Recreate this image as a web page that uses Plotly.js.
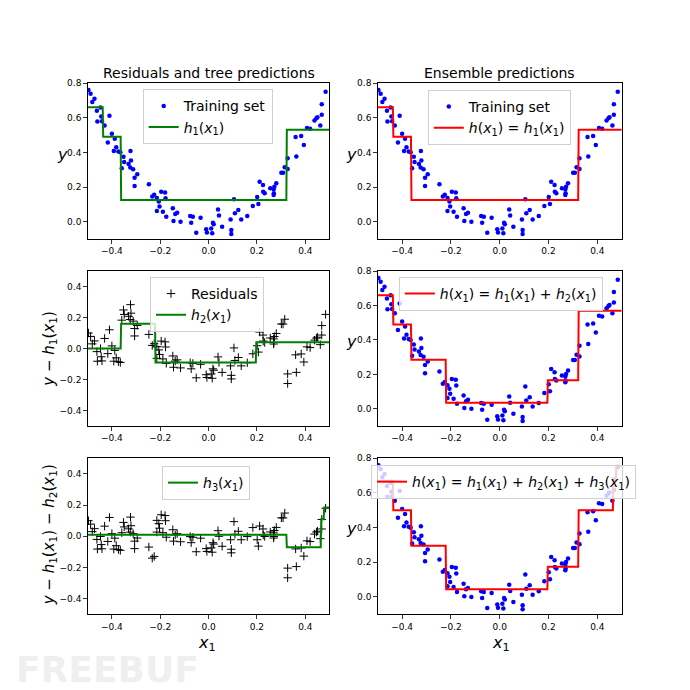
<!DOCTYPE html>
<html>
<head>
<meta charset="utf-8">
<script src="https://cdn.plot.ly/plotly-3.0.1.min.js"></script>
<style>html,body{margin:0;padding:0;background:#fff;}#chart{width:690px;height:690px;}</style>
</head>
<body>
<div id="chart"></div>
<script>
// ---- Training data ----
const X = [-0.497,-0.488,-0.481,-0.472,-0.462,-0.460,-0.447,-0.444,-0.441,-0.430,
  -0.417,-0.410,-0.400,-0.392,-0.388,-0.382,-0.373,-0.359,-0.365,-0.352,
  -0.349,-0.331,-0.324,-0.323,-0.321,-0.312,-0.306,-0.306,-0.295,-0.247,
  -0.233,-0.225,-0.214,-0.214,-0.206,-0.203,-0.196,-0.189,-0.180,-0.178,
  -0.175,-0.148,-0.145,-0.138,-0.130,-0.116,-0.076,-0.072,-0.065,-0.051,
  -0.033,-0.010,-0.007,0.011,0.015,0.018,0.021,0.039,0.043,0.056,
  0.091,0.094,0.094,0.105,0.109,0.123,0.135,0.160,0.183,0.201,
  0.206,0.211,0.225,0.226,0.232,0.255,0.269,0.269,0.270,0.272,
  0.280,0.301,0.308,0.315,0.327,0.327,0.360,0.363,0.383,0.394,
  0.407,0.420,0.438,0.446,0.450,0.462,0.468,0.468,0.484];
const Y = [0.760,0.738,0.690,0.709,0.640,0.578,0.659,0.607,0.580,0.555,
  0.457,0.611,0.507,0.408,0.478,0.430,0.405,0.308,0.400,0.374,
  0.345,0.333,0.312,0.408,0.353,0.302,0.254,0.206,0.274,0.216,
  0.145,0.156,0.137,0.062,0.116,0.087,0.173,0.058,0.168,0.135,
  0.029,0.077,0.004,0.044,0.052,0.000,0.033,-0.006,0.029,-0.064,
  0.023,-0.044,-0.062,-0.039,-0.067,-0.006,-0.015,0.071,0.035,-0.029,
  0.013,-0.048,-0.071,0.129,0.048,0.067,0.013,0.033,0.091,0.143,
  0.102,0.231,0.212,0.173,0.164,0.193,0.187,0.154,0.164,0.202,
  0.222,0.283,0.283,0.314,0.304,0.366,0.489,0.376,0.495,0.443,
  0.541,0.536,0.584,0.597,0.603,0.555,0.617,0.678,0.750];

// ---- Regression trees (split points and leaf values) ----
const tree1Splits = [-0.437, -0.362, 0.322];
const tree1Leaves = [0.66, 0.49, 0.125, 0.53];
const tree2Splits = [-0.362, -0.220, 0.196];
const tree2Leaves = [0.0, 0.16, -0.09, 0.04];
const tree3Splits = [0.322, 0.465, 0.476];
const tree3Leaves = [0.01, -0.07, 0.11, 0.185];

function predict(splits, leaves, x) {
  let i = 0;
  while (i < splits.length && x >= splits[i]) i++;
  return leaves[i];
}
const h1 = x => predict(tree1Splits, tree1Leaves, x);
const h2 = x => predict(tree2Splits, tree2Leaves, x);
const h3 = x => predict(tree3Splits, tree3Leaves, x);

const R1 = X.map((x, i) => Y[i] - h1(x));
const R2 = X.map((x, i) => R1[i] - h2(x));

const N = 500;
const grid = Array.from({length: N}, (_, i) => -0.5 + i / (N - 1));
const G1 = grid.map(h1);
const G2 = grid.map(h2);
const G3 = grid.map(h3);
const E2 = grid.map(x => h1(x) + h2(x));
const E3 = grid.map(x => h1(x) + h2(x) + h3(x));

const FONT = 'DejaVu Sans, sans-serif';
const BLUE = '#0000ff', GREEN = '#008000', RED = '#ff0000';
const sub1 = s => '<i>' + s + '</i><sub>1</sub>(<i>x</i><sub>1</sub>)';
const dots = (xa, ya, leg, show) => ({x: X, y: Y, type: 'scatter', mode: 'markers', name: 'Training set',
  marker: {color: BLUE, size: 4.5}, xaxis: xa, yaxis: ya, legend: leg, showlegend: show, cliponaxis: true});
const crosses = (vals, xa, ya, leg, show) => ({x: X, y: vals, type: 'scatter', mode: 'markers', name: 'Residuals',
  marker: {symbol: 'cross-thin', size: 6, color: '#000', line: {color: '#000', width: 1}},
  xaxis: xa, yaxis: ya, legend: leg, showlegend: show});
const line = (vals, color, name, xa, ya, leg) => ({x: grid, y: vals, type: 'scatter', mode: 'lines', name: name,
  line: {color: color, width: 2}, xaxis: xa, yaxis: ya, legend: leg});

const traces = [
  dots('x', 'y', 'legend', true),
  line(G1, GREEN, sub1('h'), 'x', 'y', 'legend'),
  dots('x2', 'y2', 'legend2', true),
  line(G1, RED, '<i>h</i>(<i>x</i><sub>1</sub>) = ' + sub1('h'), 'x2', 'y2', 'legend2'),
  crosses(R1, 'x3', 'y3', 'legend3', true),
  line(G2, GREEN, '<i>h</i><sub>2</sub>(<i>x</i><sub>1</sub>)', 'x3', 'y3', 'legend3'),
  dots('x4', 'y4', 'legend4', false),
  line(E2, RED, '<i>h</i>(<i>x</i><sub>1</sub>) = ' + sub1('h') + ' + <i>h</i><sub>2</sub>(<i>x</i><sub>1</sub>)', 'x4', 'y4', 'legend4'),
  crosses(R2, 'x5', 'y5', 'legend5', false),
  line(G3, GREEN, '<i>h</i><sub>3</sub>(<i>x</i><sub>1</sub>)', 'x5', 'y5', 'legend5'),
  dots('x6', 'y6', 'legend6', false),
  line(E3, RED, '<i>h</i>(<i>x</i><sub>1</sub>) = ' + sub1('h') + ' + <i>h</i><sub>2</sub>(<i>x</i><sub>1</sub>) + <i>h</i><sub>3</sub>(<i>x</i><sub>1</sub>)', 'x6', 'y6', 'legend6')
];

const XL = [0.1271, 0.4775], XR = [0.5474, 0.9010];
const ROW1 = [0.6536, 0.8797], ROW2 = [0.3826, 0.6072], ROW3 = [0.1097, 0.3358];
const xTicks = [-0.4, -0.2, 0, 0.2, 0.4];
const yTicksTop = [0, 0.2, 0.4, 0.6, 0.8];
const yTicksRes = [-0.4, -0.2, 0, 0.2, 0.4];

function xa(dom, anchor) {
  return {domain: dom, anchor: anchor, range: [-0.5, 0.5], tickvals: xTicks, tickformat: '.1f',
    ticks: 'outside', ticklen: 3.5, tickwidth: 0.8, tickcolor: '#000', showgrid: false, zeroline: false,
    showline: true, mirror: true, linecolor: '#000', linewidth: 1,
    tickfont: {family: FONT, size: 9, color: '#000'}};
}
function ya(dom, anchor, range, ticks) {
  return {domain: dom, anchor: anchor, range: range, tickvals: ticks, tickformat: '.1f',
    ticks: 'outside', ticklen: 3.5, tickwidth: 0.8, tickcolor: '#000', showgrid: false, zeroline: false,
    showline: true, mirror: true, linecolor: '#000', linewidth: 1,
    tickfont: {family: FONT, size: 9, color: '#000'}};
}
function leg(x, y) {
  return {x: x, y: y, xanchor: 'left', yanchor: 'top', bgcolor: 'rgba(255,255,255,0.8)',
    bordercolor: '#d0d0d0', borderwidth: 1, font: {family: FONT, size: 14, color: '#000'},
    itemwidth: 30, tracegroupgap: 0};
}
function ann(text, x, y, size, angle, extra) {
  return Object.assign({text: text, x: x, y: y, xref: 'paper', yref: 'paper', showarrow: false,
    xanchor: 'center', yanchor: 'middle', textangle: angle || 0,
    font: {family: FONT, size: size, color: '#000'}}, extra || {});
}

const layout = {
  width: 690, height: 690, margin: {l: 0, r: 0, t: 0, b: 0},
  paper_bgcolor: '#fff', plot_bgcolor: '#fff', showlegend: true,
  xaxis: xa(XL, 'y'), yaxis: ya(ROW1, 'x', [-0.1, 0.8], yTicksTop),
  xaxis2: xa(XR, 'y2'), yaxis2: ya(ROW1, 'x2', [-0.1, 0.8], yTicksTop),
  xaxis3: xa(XL, 'y3'), yaxis3: ya(ROW2, 'x3', [-0.5, 0.5], yTicksRes),
  xaxis4: xa(XR, 'y4'), yaxis4: ya(ROW2, 'x4', [-0.1, 0.8], yTicksTop),
  xaxis5: xa(XL, 'y5'), yaxis5: ya(ROW3, 'x5', [-0.5, 0.5], yTicksRes),
  xaxis6: xa(XR, 'y6'), yaxis6: ya(ROW3, 'x6', [-0.1, 0.8], yTicksTop),
  legend: leg(0.2068, 0.8706),
  legend2: leg(0.620, 0.8696),
  legend3: leg(0.2174, 0.5986),
  legend4: leg(0.578, 0.5986),
  legend5: leg(0.2348, 0.3246),
  legend6: leg(0.5377, 0.326),
  annotations: [
    ann('Residuals and tree predictions', 0.3029, 0.894, 14),
    ann('Ensemble predictions', 0.7239, 0.894, 14),
    ann('<i>y</i>', 0.0899, 0.7754, 16),
    ann('<i>y</i>', 0.510, 0.7754, 16),
    ann('<i>y</i>', 0.510, 0.5048, 16),
    ann('<i>y</i>', 0.510, 0.2343, 16),
    ann('<i>y</i> \u2212 ' + sub1('h'), 0.0715, 0.4952, 15, -90),
    ann('<i>y</i> \u2212 ' + sub1('h') + ' \u2212 <i>h</i><sub>2</sub>(<i>x</i><sub>1</sub>)', 0.0715, 0.2246, 15, -90),
    ann('<i>x</i><sub>1</sub>', 0.2996, 0.067, 16),
    ann('<i>x</i><sub>1</sub>', 0.7261, 0.067, 16),
    ann('<b>FREEBUF</b>', 0.02, 0.030, 36, 0, {xanchor: 'left', font: {family: FONT, size: 36, color: 'rgba(200,200,200,0.3)'}})
  ]
};

Plotly.newPlot('chart', traces, layout, {staticPlot: true, displayModeBar: false});
</script>
</body>
</html>
